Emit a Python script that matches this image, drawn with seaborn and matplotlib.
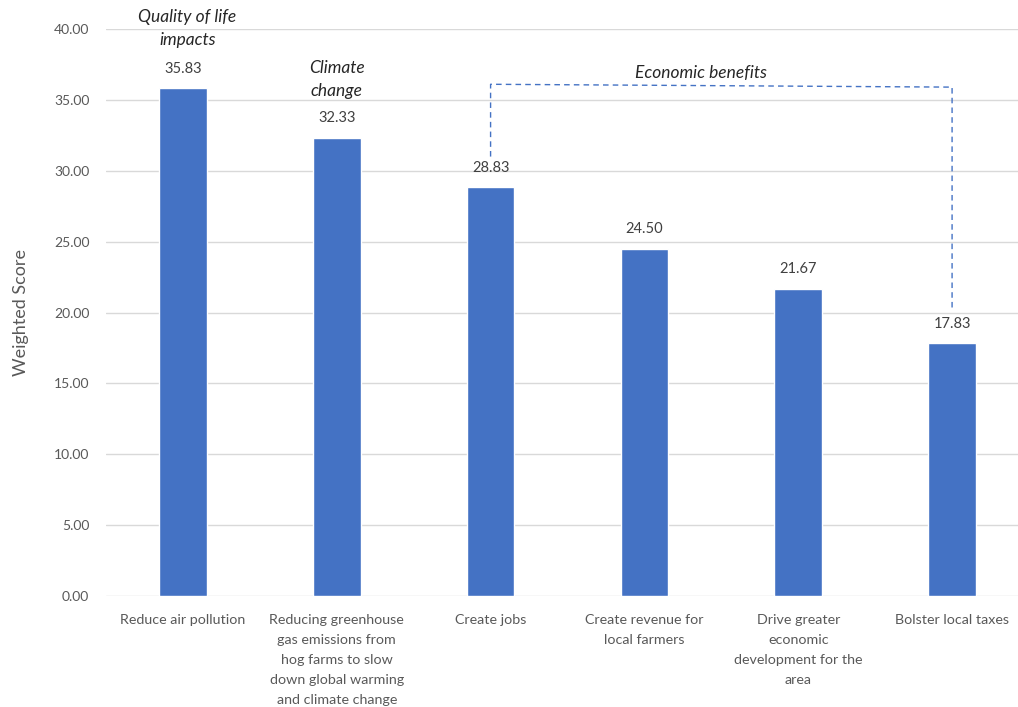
import matplotlib.pyplot as plt
import pandas as pd
import seaborn as sns

categories = [
    "Reduce air pollution",
    "Reducing greenhouse\ngas emissions from\nhog farms to slow\ndown global warming\nand climate change",
    "Create jobs",
    "Create revenue for\nlocal farmers",
    "Drive greater\neconomic\ndevelopment for the\narea",
    "Bolster local taxes",
]
scores = [35.83, 32.33, 28.83, 24.50, 21.67, 17.83]
y_ticks = [0, 5, 10, 15, 20, 25, 30, 35, 40]

df = pd.DataFrame({"category": categories, "score": scores})

sns.set_theme(style="white")
plt.rcParams["font.family"] = ["Lato", "DejaVu Sans"]

fig = plt.figure(figsize=(10.18, 7.07), dpi=100)
ax = fig.add_axes([106 / 1018, 111 / 707, 923 / 1018, 567 / 707])

sns.barplot(data=df, x="category", y="score", color="#4472C4", width=0.31,
            saturation=1, ax=ax, zorder=3)
ax.bar_label(ax.containers[0], fmt="%.2f", padding=9, fontsize=10.5, color="#404040")

ax.set_xlim(-0.5, 5.5)
ax.set_ylim(0, 40)
ax.set_yticks(y_ticks)
ax.set_yticklabels([f"{t:.2f}" for t in y_ticks], fontsize=10, color="#595959")
ax.tick_params(axis="x", labelsize=10.3, colors="#595959", length=0, pad=13)
ax.tick_params(axis="y", length=0, pad=12)
for lbl in ax.get_xticklabels():
    lbl.set_linespacing(1.8)
    lbl.set_verticalalignment("top")
ax.yaxis.grid(True, color="#D9D9D9", linewidth=1, zorder=0)
ax.set_xlabel("")
ax.set_ylabel("Weighted Score", fontsize=13, color="#595959", labelpad=18)
for s in ax.spines.values():
    s.set_visible(False)

# group annotations
note = dict(fontsize=12.5, style="italic", color="#262626", ha="center", va="center",
            linespacing=1.5)
ax.text(0.03, 40.05, "Quality of life\nimpacts", clip_on=False, **note)
ax.text(1.0, 36.45, "Climate\nchange", **note)
ax.text(3.37, 36.9, "Economic benefits", **note)

# dashed bracket over the economic bars
ax.plot([2, 2, 5, 5], [31.0, 36.1, 35.9, 20.3], color="#4472C4", linestyle=(0, (4, 3)),
        linewidth=1, zorder=4, clip_on=False)

fig.savefig("out.png", dpi=100)
